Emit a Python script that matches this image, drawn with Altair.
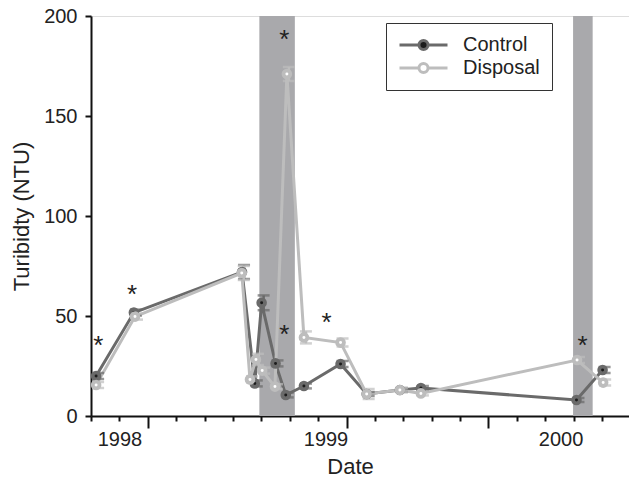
import altair as alt
import pandas as pd

# ---- data (x in axis-tick units, 19 ticks along the date axis) ----
ctrl_t = [0.18, 1.51, 5.32, 5.77, 6.01, 6.50, 6.86, 7.50, 8.79, 9.71, 10.88, 11.62, 17.10, 18.02]
ctrl_v = [20, 51.7, 72, 16.3, 56.6, 26.3, 10.5, 15, 26, 11, 13, 14, 8, 23]
ctrl_e = [1.5, 1.5, 3.5, 1.5, 3.7, 1.5, 1.2, 1.2, 1.5, 1.0, 1.0, 1.0, 1.0, 1.5]

disp_t = [0.18, 1.55, 5.31, 5.60, 5.81, 6.03, 6.48, 6.90, 7.50, 8.79, 9.71, 10.88, 11.62, 17.12, 18.04]
disp_v = [15.5, 49.7, 71.5, 18.3, 28.3, 22.7, 14.7, 171, 39.3, 36.7, 11, 13, 11.3, 28, 16.7]
disp_e = [1.5, 1.5, 3.5, 1.5, 2.8, 1.5, 1.2, 3.5, 3.0, 2.0, 2.5, 1.0, 1.0, 1.5, 1.5]

shade_start = [5.93, 16.98]
shade_end = [7.18, 17.67]

star_t = [0.26, 1.45, 6.81, 6.81, 8.30, 17.31]
star_v = [38, 63.3, 191, 43.5, 49.3, 38]

tick_values = list(range(19))
year_pos = [1.0, 8.26, 16.54]
year_labels = ["1998", "1999", "2000"]
long_ticks = [2, 9, 14]

series = ["Control", "Disposal"]
line_colors = ["#6a6a6a", "#bdbdbd"]
fill_colors = ["#1c1c1c", "#ffffff"]

rows = []
for s, ts, vs, es in [("Control", ctrl_t, ctrl_v, ctrl_e), ("Disposal", disp_t, disp_v, disp_e)]:
    for i, (t, v, e) in enumerate(zip(ts, vs, es)):
        rows.append({"series": s, "order": i, "t": t, "v": v, "lo": v - e, "hi": v + e})
df = pd.DataFrame(rows)
shades = pd.DataFrame({"a": shade_start, "b": shade_end})
stars = pd.DataFrame({"t": star_t, "v": star_v})

FONT = "Liberation Sans"
xscale = alt.Scale(domain=[0, 18.95], nice=False, zero=False)
yscale = alt.Scale(domain=[0, 200], nice=False)

axis_vals = tick_values + year_pos
label_expr = " : ".join(
    f"datum.value == {p} ? '{l}'" for p, l in zip(year_pos, year_labels)
) + " : ''"
long_test = "indexof([" + ", ".join(str(v) for v in long_ticks) + "], datum.value) >= 0"
hide_test = " || ".join(f"datum.value == {p}" for p in year_pos if p not in tick_values)

x_axis = alt.Axis(
    values=axis_vals, labelExpr=label_expr, labelOverlap=False, labelFlush=False,
    title="Date", titleFontSize=22, titleFont=FONT, titleFontWeight="normal",
    titleColor="#222", titleBaseline="alphabetic", titleY=57, titleX=259,
    labelFontSize=20, labelFont=FONT, labelColor="#222", labelPadding=8,
    domainColor="#111", domainWidth=2, tickColor="#111", tickWidth=2,
    tickSize={"condition": {"test": long_test, "value": 12}, "value": 5},
    tickOpacity={"condition": {"test": hide_test, "value": 0}, "value": 1},
    grid=False,
)
y_axis = alt.Axis(
    values=[0, 50, 100, 150, 200], title="Turibidty (NTU)", titleFontSize=22,
    titleFont=FONT, titleFontWeight="normal", titleColor="#222", titlePadding=10,
    labelFontSize=20, labelFont=FONT, labelColor="#222", labelPadding=8,
    domainColor="#111", domainWidth=2, tickColor="#111", tickWidth=2, tickSize=6,
    grid=False,
)

def X(field):
    return alt.X(field, scale=xscale, axis=x_axis)

def Y(field):
    return alt.Y(field, scale=yscale, axis=y_axis)

base = alt.Chart(df)

shade_layer = alt.Chart(shades).mark_rect(color="#a9a9ac").encode(
    x=X("a:Q"),
    x2="b:Q",
    y=alt.datum(0, scale=yscale, axis=y_axis, type="quantitative"),
    y2=alt.datum(200),
)

layers = [shade_layer]
for s, col in zip(series, line_colors):
    sub = base.transform_filter(alt.datum.series == s)
    layers.append(sub.mark_line(color=col, strokeWidth=3).encode(
        x=X("t:Q"), y=Y("v:Q"), order="order:Q"))
for s, col in zip(series, line_colors):
    sub = base.transform_filter(alt.datum.series == s)
    layers.append(sub.mark_rule(color=col, strokeWidth=2.5, xOffset=2).encode(
        x=X("t:Q"), y=Y("lo:Q"), y2="hi:Q"))
    layers.append(sub.mark_tick(color=col, orient="horizontal", size=12, thickness=2.5, xOffset=2).encode(
        x=X("t:Q"), y=Y("hi:Q")))
    layers.append(sub.mark_tick(color=col, orient="horizontal", size=12, thickness=2.5, xOffset=2).encode(
        x=X("t:Q"), y=Y("lo:Q")))

legend = alt.Legend(
    title=None, orient="none", legendX=295, legendY=7,
    symbolType="M-1,0L-0.22,0M0.22,0L1,0M-0.19,0A0.19,0.19,0,1,1,0.19,0A0.19,0.19,0,1,1,-0.19,0Z",
    symbolSize=2304, symbolStrokeWidth=3, clipHeight=20, rowPadding=3,
    labelFontSize=20, labelFont=FONT, labelColor="#222", labelOffset=14,
    padding=12, strokeColor="#333", fillColor="white",
)
points = base.mark_point(filled=False, size=46, strokeWidth=3.8, opacity=1, shape="circle").encode(
    x=X("t:Q"),
    y=Y("v:Q"),
    stroke=alt.Stroke("series:N", scale=alt.Scale(domain=series, range=line_colors), legend=legend),
    fill=alt.Fill("series:N", scale=alt.Scale(domain=series, range=fill_colors), legend=legend),
)
layers.append(points)

star_layer = alt.Chart(stars).mark_text(text="*", fontSize=26, font=FONT, color="#222",
                                        baseline="middle", dy=6).encode(
    x=X("t:Q"), y=Y("v:Q"))
layers.append(star_layer)

chart = alt.layer(*layers).properties(
    width=538, height=400,
    padding={"left": 91, "top": 16, "right": 0, "bottom": 62},
    autosize=alt.AutoSizeParams(type="none"),
).configure_view(stroke=None).configure(font=FONT).configure_axis(labelOverlap=False)

chart.save("out.html", embed_options={"renderer": "svg", "actions": False})
